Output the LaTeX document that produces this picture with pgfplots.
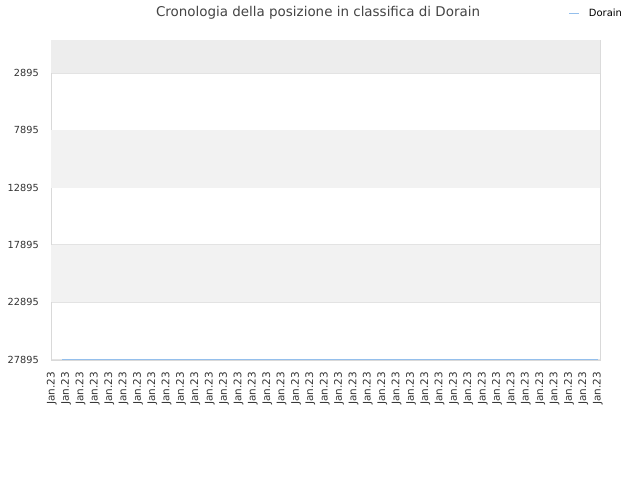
\documentclass[border=0pt]{standalone}
\usepackage{pgfplots}
\pgfplotsset{compat=1.18}
\usepackage{fontspec}
\setmainfont{DejaVu Sans}
\definecolor{bandtop}{HTML}{EDEDED}
\definecolor{band}{HTML}{F2F2F2}
\definecolor{gridc}{HTML}{E3E3E3}
\definecolor{framec}{HTML}{D9D9D9}
\definecolor{linec}{HTML}{94BFEC}
\definecolor{titlec}{HTML}{444444}
\definecolor{tickc}{HTML}{333333}
\begin{document}
\begin{tikzpicture}
\path[fill=white] (0bp,0bp) rectangle (640bp,480bp);
\node[text=titlec, font=\fontsize{13.5}{15}\selectfont] at (318bp,467.5bp) {Cronologia della posizione in classifica di Dorain};
\begin{axis}[
    at={(51bp,120bp)}, anchor=south west,
    scale only axis, width=549bp, height=320bp,
    xmin=-0.05, xmax=38.16,
    ymin=15, ymax=27940,
    y dir=reverse,
    xtick={0,...,38},
    xticklabel={Jan.23},
    ytick={2895,7895,12895,17895,22895,27895},
    scaled y ticks=false,
    /pgf/number format/fixed,
    /pgf/number format/1000 sep={},
    /pgf/number format/assume math mode=true,
    x tick label style={rotate=90, anchor=east, font=\fontsize{10.5}{12}\selectfont, text=tickc, inner sep=0pt, xshift=-12bp},
    y tick label style={font=\fontsize{9.8}{12}\selectfont, text=tickc, inner sep=0pt, xshift=-12bp},
    major tick length=0pt,
    ymajorgrids, grid style={gridc, line width=0.8pt},
    axis line style={framec, line width=0.8pt},
    legend style={draw=none, fill=none, at={(1.044,1.084)}, anchor=east,
      font=\fontsize{10}{12}\selectfont, inner sep=0pt,
      /tikz/every odd column/.append style={column sep=7bp}},
    legend cell align=left,
    legend image code/.code={\draw[#1, line width=1.2pt] (0bp,0bp) -- (10bp,0bp);},
]
\fill[bandtop] (axis cs:-1,0) rectangle (axis cs:40,2895);
\fill[band] (axis cs:-1,7895) rectangle (axis cs:40,12895);
\fill[band] (axis cs:-1,17895) rectangle (axis cs:40,22895);
\addplot[linec, line width=0.9pt, no marks] coordinates {
(0.72,27860) (1,27860) (2,27860) (3,27860) (4,27860) (5,27860) (6,27860) (7,27860)
(8,27860) (9,27860) (10,27860) (11,27860) (12,27860) (13,27860) (14,27860) (15,27860)
(16,27860) (17,27860) (18,27860) (19,27860) (20,27860) (21,27860) (22,27860) (23,27860)
(24,27860) (25,27860) (26,27860) (27,27860) (28,27860) (29,27860) (30,27860) (31,27860)
(32,27860) (33,27860) (34,27860) (35,27860) (36,27860) (37,27860) (38,27860)
};
\addlegendentry{Dorain}
\end{axis}
\end{tikzpicture}
\end{document}
